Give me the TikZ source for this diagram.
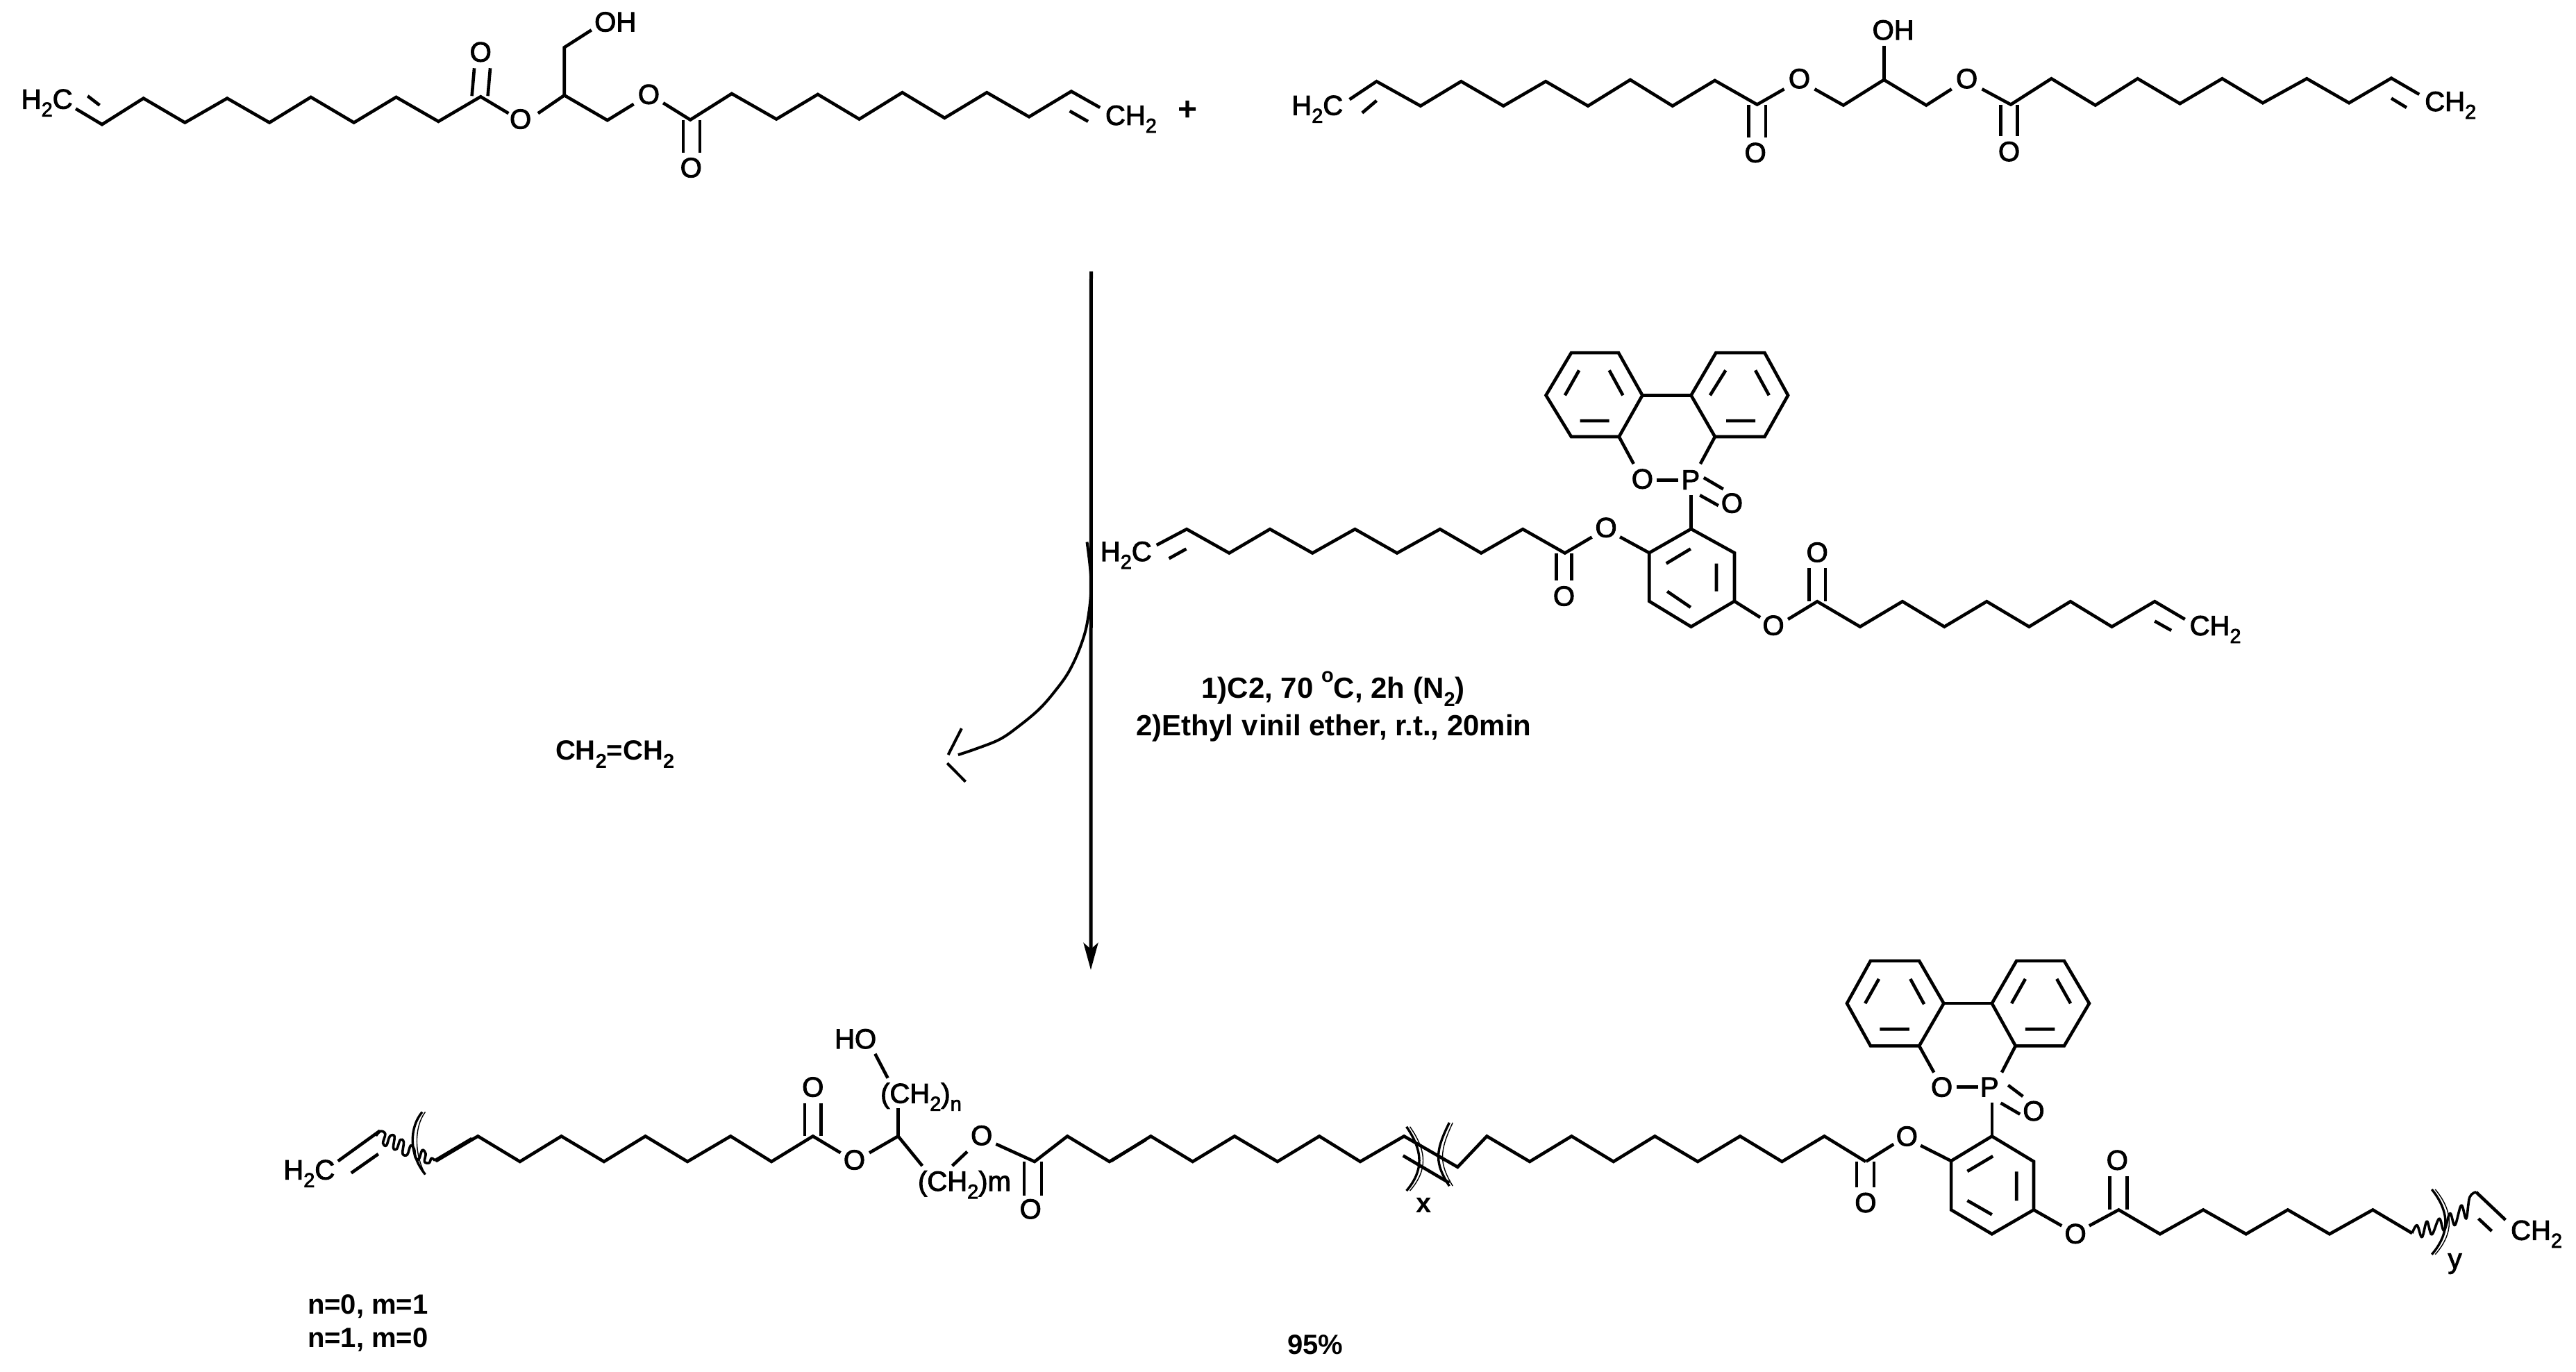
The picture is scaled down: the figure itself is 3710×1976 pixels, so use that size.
\documentclass[tikz,border=0pt]{standalone}
\usepackage{fontspec}
\setmainfont{Liberation Sans}
\newfontfamily\atomf[FakeBold=2.5]{Liberation Sans}
\usetikzlibrary{arrows.meta}
\newcommand{\subb}[1]{\raisebox{-0.28em}{\fontsize{2.9}{3}\selectfont #1}}
\tikzset{
  bond/.style={line width=0.46pt,line cap=butt,line join=miter},
  thinb/.style={line width=0.14pt},
  atom/.style={font=\fontsize{4}{4.8}\atomf\selectfont,inner sep=0pt,anchor=center},
  lab/.style={font=\fontsize{4}{4.8}\atomf\selectfont,inner sep=0pt,anchor=base west},
  boldlab/.style={font=\fontsize{4}{4.8}\selectfont\bfseries,inner sep=0pt,anchor=base west},
  cond/.style={font=\fontsize{4.2}{5}\selectfont\bfseries,inner sep=0pt,anchor=center},
  zoomed/.style n args={4}{x={#3pt},y={#4pt},shift={(#1pt,#2pt)}},
}
\begin{document}
\begin{tikzpicture}[x=0.1pt,y=-0.1pt]
\useasboundingbox (0,0) rectangle (3710,1976);
\fill[white] (0,0) rectangle (3710,1976);

% ---------- top-left reactant
\begin{scope}[zoomed={0}{0}{0.1148}{-0.03333}]
\draw[bond] (95,470)--(128,538)--(180,425)--(232,530)--(285,425)--(338,530)--(390,420)--(444,530)--(497,420)--(550,525)--(603,418)--(638,490);
\draw[bond] (675,490)--(708,412)--(762,520)--(795,450);
\draw[bond] (832,445)--(866,518)--(918,405)--(974,515)--(1026,408)--(1078,515)--(1132,400)--(1185,510)--(1238,400)--(1291,505)--(1344,395)--(1380,465);
\draw[bond] (110,415)--(125,455);
\draw[bond] (1342,480)--(1365,525);
\draw[bond] (592,415)--(595,295) (612,415)--(615,295);
\draw[bond] (708,412)--(708,205)--(742,130);
\draw[bond] (857,518)--(857,660) (878,518)--(878,660);
\node[lab] (a1) at (25,470) {H\subb2C};
\node[lab] (a2) at (1385,540) {CH\subb2};
\node[atom] (a3) at (603,225) {O};
\node[atom] (a4) at (653,515) {O};
\node[atom] (a5) at (814,408) {O};
\node[atom] (a6) at (867,725) {O};
\node[atom] (a7) at (772,95) {OH};
\node[cond,font=\fontsize{4.8}{6}\selectfont\bfseries] (plus) at (1490,480) {+};
\end{scope}

% ---------- top-right reactant
\begin{scope}[zoomed={180}{0}{0.1218}{-0.03333}]
\draw[bond] (118,430)--(150,352)--(202,458)--(250,352)--(300,458)--(350,352)--(400,458)--(450,345)--(500,458)--(550,348)--(600,452)--(632,385);
\draw[bond] (668,385)--(702,455)--(750,345)--(800,455)--(830,385);
\draw[bond] (866,385)--(900,452)--(948,340)--(1000,455)--(1050,340)--(1100,448)--(1150,340)--(1198,445)--(1250,340)--(1300,445)--(1350,338)--(1383,408);
\draw[bond] (150,435)--(133,488);
\draw[bond] (1350,425)--(1368,465);
\draw[bond] (750,345)--(750,198);
\draw[bond] (590,452)--(590,595) (610,452)--(610,595);
\draw[bond] (888,452)--(888,588) (908,452)--(908,588);
\node[lab] (b1) at (48,497) {H\subb2C};
\node[lab] (b2) at (1388,480) {CH\subb2};
\node[atom] (b3) at (650,340) {O};
\node[atom] (b4) at (848,340) {O};
\node[atom] (b5) at (598,660) {O};
\node[atom] (b6) at (898,655) {O};
\node[atom] (b7) at (761,130) {OH};
\end{scope}

% ---------- middle reagent, left chain
\begin{scope}[zoomed={150}{-45}{0.06378}{-0.04592}]
\draw[bond] (260,730)--(328,680)--(424,755)--(516,680)--(612,755)--(708,680)--(803,755)--(900,680)--(993,755)--(1087,680)--(1182,755)--(1243,705);
\draw[bond] (288,772)--(327,742);
\draw[bond] (1163,755)--(1163,840) (1197,755)--(1197,840);
\node[lab] (c1) at (130,780) {H\subb2C};
\node[atom] (c2) at (1275,675) {O};
\node[atom] (c3) at (1180,890) {O};
\end{scope}

% ---------- middle reagent, rings and right chain
\begin{scope}[zoomed={220}{-45}{0.07015}{-0.03827}]
\draw[bond] (190,845)--(250,905);
\draw[bond] (250,905)--(336,815)--(425,905)--(425,1087)--(336,1183)--(250,1087)--cycle;
\draw[bond] (285,945)--(335,890) (388,945)--(388,1050) (287,1050)--(335,1110);
\draw[bond] (336,815)--(336,687);
\draw[bond] (265,632)--(310,632);
\draw[bond] (218,570)--(188,468) (355,570)--(385,468);
\draw[bond] (188,468)--(90,468)--(38,312)--(90,152)--(187,152)--(236,312)--cycle;
\draw[bond] (385,468)--(487,468)--(535,312)--(487,152)--(387,152)--(336,312)--cycle;
\draw[bond] (236,312)--(336,312);
\draw[bond] (108,408)--(168,408) (77,312)--(106,218) (196,312)--(168,218);
\draw[bond] (408,408)--(468,408) (375,312)--(407,218) (496,312)--(468,218);
\draw[bond] (362,622)--(402,665) (354,688)--(392,727);
\draw[bond] (425,1087)--(478,1148);
\draw[bond] (535,1155)--(595,1088)--(683,1183)--(770,1088)--(856,1183)--(943,1088)--(1030,1183)--(1115,1088)--(1200,1183)--(1288,1088)--(1350,1155);
\draw[bond] (1288,1162)--(1322,1197);
\draw[bond] (578,1087)--(578,962) (612,1087)--(612,962);
\node[atom] (d1) at (335,630) {P};
\node[atom] (d2) at (236,627) {O};
\node[atom] (d3) at (420,718) {O};
\node[atom] (d4) at (505,1178) {O};
\node[atom] (d5) at (595,903) {O};
\node[lab] (d6) at (1357,1215) {CH\subb2};
\end{scope}

% ---------- product, left part
\begin{scope}[zoomed={35}{-144}{0.08291}{-0.03418}]
\draw[bond] (165,680)--(238,552);
\draw[bond] (188,730)--(235,650);
\draw[bond] (335,680)--(408,575)--(481,682)--(553,575)--(627,682)--(699,575)--(772,682)--(847,575)--(918,682)--(990,575)--(1038,645);
\draw[bond] (1088,645)--(1138,575)--(1180,700);
\draw[bond] (1232,700)--(1258,640);
\draw[bond] (1308,608)--(1375,682)--(1432,575)--(1505,682)--(1568,590);
\draw[bond] (1138,575)--(1138,458);
\draw[bond] (1120,330)--(1098,228);
\draw[bond] (976,575)--(976,435) (1004,575)--(1004,435);
\draw[bond] (1357,682)--(1357,825) (1387,682)--(1387,825);
\node[lab] (e1) at (68,757) {H\subb2C};
\node[lab] (e2) at (1105,435) {(CH\subb2)\subb{n}};
\node[lab] (e3) at (1170,805) {(CH\subb2)m};
\node[atom] (e4) at (1064,165) {HO};
\node[atom] (e5) at (990,368) {O};
\node[atom] (e6) at (1062,675) {O};
\node[atom] (e7) at (1283,572) {O};
\node[atom] (e8) at (1368,882) {O};
\end{scope}

% wavy bond and bracket, left
\begin{scope}[zoomed={44}{-160}{0.0333}{-0.0333}]
\draw[line width=0.36pt,line join=round] plot[smooth,tension=0.6] coordinates {(305,108) (325,88) (345,100) (335,140) (350,150) (365,110) (385,110) (380,160) (395,165) (410,125) (425,135) (420,185) (440,190) (455,150) (470,165) (475,200) (490,210) (505,170) (520,185) (515,220) (535,225) (545,205) (560,215)};
\draw[bond] (560,215)--(720,120);
\draw[line width=0.34pt] (518,275) .. controls (445,185) and (450,70) .. (505,5);
\draw[thinb] (518,275) .. controls (470,185) and (470,70) .. (518,5);
\end{scope}

% ---------- product, middle chain
\begin{scope}[zoomed={160}{-144}{0.07015}{-0.03418}]
\draw[bond] (0,680)--(82,575)--(168,682)--(254,575)--(342,682)--(428,575)--(512,682)--(602,575)--(712,705)--(772,575)--(860,682)--(946,575)--(1032,682)--(1117,575)--(1205,682)--(1292,575)--(1378,682)--(1465,575)--(1550,682);
\draw[bond] (600,657)--(695,772);
\draw[line width=0.34pt] (607,535) .. controls (642,640) and (642,720) .. (607,805);
\draw[thinb] (614,535) .. controls (650,640) and (650,720) .. (614,805);
\draw[line width=0.34pt] (695,518) .. controls (665,640) and (665,690) .. (695,785);
\draw[thinb] (702,518) .. controls (674,640) and (674,690) .. (702,785);
\node[boldlab,anchor=center] (f1) at (642,865) {x};
\node[boldlab,anchor=center] (f2) at (420,1455) {95\%};
\end{scope}

% ---------- product, right part
\begin{scope}[zoomed={260}{-134}{0.07079}{-0.03827}]
\draw[bond] (124,870)--(180,805);
\draw[bond] (105,870)--(105,968) (140,870)--(140,968);
\draw[bond] (235,810)--(297,868);
\draw[bond] (297,868)--(380,775)--(465,870)--(465,1052)--(380,1143)--(297,1052)--cycle;
\draw[bond] (330,907)--(382,850) (430,908)--(430,1018) (330,1017)--(380,1070);
\draw[bond] (380,775)--(380,648);
\draw[bond] (308,590)--(352,590);
\draw[bond] (262,535)--(232,435) (400,535)--(428,435);
\draw[bond] (232,435)--(133,435)--(85,275)--(133,115)--(232,115)--(282,275)--cycle;
\draw[bond] (428,435)--(527,435)--(578,275)--(527,115)--(430,115)--(380,275)--cycle;
\draw[bond] (282,275)--(380,275);
\draw[bond] (152,372)--(212,372) (122,275)--(150,183) (242,278)--(214,183);
\draw[bond] (448,372)--(508,372) (420,275)--(448,183) (540,275)--(512,183);
\draw[bond] (413,583)--(443,625) (398,650)--(437,692);
\draw[bond] (465,1052)--(522,1112);
\draw[bond] (578,1112)--(638,1052)--(722,1143)--(810,1052)--(897,1143)--(982,1052)--(1067,1143)--(1155,1052)--(1235,1140);
\draw[bond] (620,1052)--(620,925) (655,1052)--(655,925);
\draw[line width=0.36pt,line join=round] plot[smooth,tension=0.6] coordinates {(1235,1140) (1245,1110) (1255,1155) (1265,1095) (1275,1145) (1290,1085) (1300,1130) (1312,1065) (1322,1110) (1335,1035) (1345,1085) (1352,1005) (1365,985)};
\draw[bond] (1365,985)--(1425,1090);
\draw[bond] (1370,1085)--(1397,1132);
\draw[line width=0.34pt] (1275,975) .. controls (1312,1060) and (1312,1140) .. (1275,1220);
\draw[thinb] (1282,975) .. controls (1320,1060) and (1320,1140) .. (1282,1220);
\node[atom] (g1) at (375,590) {P};
\node[atom] (g2) at (278,590) {O};
\node[atom] (g3) at (465,680) {O};
\node[atom] (g4) at (207,775) {O};
\node[atom] (g5) at (123,1025) {O};
\node[atom] (g6) at (550,1142) {O};
\node[atom] (g7) at (635,865) {O};
\node[lab] (g8) at (1433,1165) {CH\subb2};
\node[atom] (g9) at (1322,1255) {y};
\end{scope}

% ---------- arrows
\coordinate (arrowstart) at (1571.5,391);
\coordinate (arrowtip) at (1571,1397);
\draw[line width=0.5pt,-{Stealth[length=3.9pt,width=2.1pt,inset=0.9pt]}] (arrowstart)--(arrowtip);
\begin{scope}[zoomed={130}{-75}{0.03333}{-0.03333}]
\draw[line width=0.4pt] plot[smooth,tension=0.6] coordinates {(797,92) (815,270) (800,430) (770,540) (720,650) (660,735) (590,815) (500,890) (420,945) (320,985) (240,1012)};
\draw[line width=0.4pt] (255,898)--(197,1012) (193,1048)--(272,1128);
\end{scope}

% ---------- free text
\node[cond] (t1) at (1920,992) {1)C2, 70 \raisebox{0.55em}{\fontsize{2.9}{3}\selectfont o}C, 2h (N\subb2)};
\node[cond] (t2) at (1921,1049) {2)Ethyl v\kern0.04em inil ether, r.t., 20min};
\node[boldlab] (t3) at (798,1095) {CH\subb2=CH\subb2};
\node[boldlab] (t4) at (441,1893) {n=0, m=1};
\node[boldlab] (t5) at (441,1941) {n=1, m=0};
\end{tikzpicture}
\end{document}
